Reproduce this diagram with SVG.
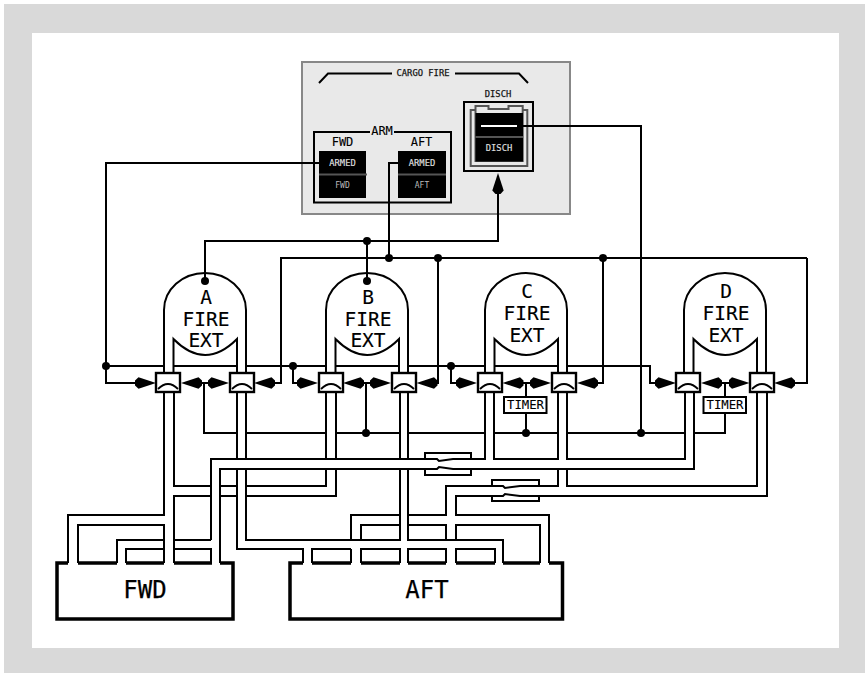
<svg xmlns="http://www.w3.org/2000/svg" width="865" height="673" viewBox="0 0 865 673">
<style>
.w{fill:none;stroke:#000;stroke-width:2}
.t{fill:none;stroke:#000;stroke-width:3.5}
.d{fill:#fff;stroke:#000;stroke-width:2}
.v{fill:#fff;stroke:#000;stroke-width:2.4}
.a{fill:none;stroke:#000;stroke-width:1.8}
.g{fill:none;stroke:#555;stroke-width:2}
text{font-family:"DejaVu Sans Mono","Liberation Mono",monospace;text-anchor:middle;fill:#000}
.x{font-size:19.5px;stroke:#000;stroke-width:.12}
.y{font-size:24px;stroke:#000;stroke-width:.25}
.z{font-size:12.3px;stroke:#000;stroke-width:.1}
.s{font-size:8.8px}
.n{stroke:#333;stroke-width:.25}
.m{font-size:12px;stroke:#000;stroke-width:.1}
.l{fill:#ddd;stroke:#ddd;stroke-width:.2}
.k{fill:#bbb;font-size:8px}
circle{fill:#000}
</style>
<defs>
<marker id="k" markerUnits="userSpaceOnUse" markerWidth="22" markerHeight="13" refX="13" refY="6.500" orient="auto"><path d="M0 4L3.500 .8L21 6.500L3.500 12.200L0 9Z" fill="#000"/></marker>
<g id="valve"><rect class="v" x="-12" y="-10" width="24" height="19"/><path class="a" d="M-10 6Q0 -4 10 6"/></g>
<path id="dome" class="w" d="M0 373V310A41 37 0 0 1 82 310V373M9.500 373V339Q41 371 73 339V373"/>
</defs>
<rect x="4" y="4" width="861" height="669" fill="#d9d9d9"/>
<rect x="32" y="33" width="807" height="615" fill="#fff"/>

<g id="panel">
<rect x="302" y="62" width="268" height="152" fill="#e9e9e9" stroke="#888" stroke-width="2"/>
<path class="w" d="M319 83L328 73.500H392M455 73.500H519L528 83"/>
<text class="s n" x="423" y="76">CARGO FIRE</text>
<text class="s n" x="498" y="97">DISCH</text>
</g>
<g id="arm">
<path class="w" d="M370 132H314V202.500H451V132H394"/>
<text class="m" x="382" y="135">ARM</text>
<text class="m" x="342.500" y="146">FWD</text>
<text class="m" x="421.500" y="146">AFT</text>
</g>
<g id="fwd-switch">
<rect x="319" y="151" width="47" height="47"/>
<path class="g" d="M319 174.500H367"/>
<text class="s l" x="342.500" y="166">ARMED</text>
<text class="s k" x="342.500" y="188">FWD</text>
</g>
<g id="aft-switch">
<rect x="398" y="151" width="48" height="47"/>
<path class="g" d="M398 174.500H446"/>
<text class="s l" x="422" y="166">ARMED</text>
<text class="s k" x="422" y="188">AFT</text>
</g>
<g id="disch-switch">
<rect x="464" y="102" width="69" height="69" fill="none" stroke="#000" stroke-width="2"/>
<path d="M475 110H470.700V166H527.300V110H522.700" fill="none" stroke="#555" stroke-width="2"/>
<path d="M475.500 161V106H488.500V109H508.500V106H522.700V161Z" fill="#e9e9e9" stroke="#555" stroke-width="2"/>
<rect x="475.500" y="113" width="47.500" height="48.500"/>
<path class="g" d="M475.500 137H523"/>
<path d="M481 126H517" stroke="#fff" stroke-width="2"/>
<text class="s l" x="499" y="151">DISCH</text>
</g>

<g id="connectors">
<path class="w" d="M319 163H106V383H148" marker-end="url(#k)"/>
<path class="w" d="M398 163H389V258"/>
<path class="w" d="M517 126H641V433"/>
<path class="w" d="M205 281V241H498V181" marker-end="url(#k)"/>
<path class="w" d="M367 241V281"/>
<path class="w" d="M807 258H281V383H262" marker-end="url(#k)"/>
<path class="w" d="M438 258V383H424.500" marker-end="url(#k)"/>
<path class="w" d="M603 258V383H585" marker-end="url(#k)"/>
<path class="w" d="M807 258V383H782" marker-end="url(#k)"/>
<path class="w" d="M106 366H164M174 366H237M246 366H325M335 366H399M408 366H485M494 366H558M567 366H650V383H668" marker-end="url(#k)"/>
<path class="w" d="M293 366V383H310" marker-end="url(#k)"/>
<path class="w" d="M451 366V383H469" marker-end="url(#k)"/>
<path class="w" d="M204 383H189" marker-end="url(#k)"/>
<path class="w" d="M204 383H221" marker-end="url(#k)"/>
<path class="w" d="M366 383H351" marker-end="url(#k)"/>
<path class="w" d="M366 383H383" marker-end="url(#k)"/>
<path class="w" d="M526 383H510.500" marker-end="url(#k)"/>
<path class="w" d="M526 383H543" marker-end="url(#k)"/>
<path class="w" d="M725 383H709" marker-end="url(#k)"/>
<path class="w" d="M725 383H741.500" marker-end="url(#k)"/>
<path class="w" d="M204 383V433H237M246 433H326M336 433H399M408 433H485M494 433H558M567 433H685M694 433H725V412M366 383V433M526 383V397M526 412V433M725 383V397"/>
<circle cx="106" cy="366" r="4"/><circle cx="293" cy="366" r="4"/><circle cx="451" cy="366" r="4"/>
<circle cx="205" cy="281" r="4"/><circle cx="367" cy="281" r="4"/><circle cx="367" cy="241" r="4"/>
<circle cx="389" cy="258" r="4"/><circle cx="438" cy="258" r="4"/><circle cx="603" cy="258" r="4"/>
<circle cx="366" cy="433" r="4"/><circle cx="526" cy="433" r="4"/><circle cx="641" cy="433" r="4"/>
<path class="w" d="M164 392V515H68V563M174 392V486H211M220 486H237M246 486H326V469M326 392V459M336 392V459M336 469V496H246M237 496H220M211 496H174V563"/>
<path class="w" d="M237 392V459M237 469V549H303V563M246 392V459M246 469V540H400V469M400 392V459M408 392V459M408 469V540H503V563"/>
<path class="w" d="M211 540V459H437L439 461L453 459H485V392M494 392V459H558V392M567 392V459H685V392"/>
<path class="w" d="M220 563V469H437L439 467L453 469H694V392"/>
<path class="w" d="M558 469V486H520L505 488L503 486H446V515H408M400 515H351V540M351 549V563M312 563V549H351"/>
<path class="w" d="M567 469V486H757V392M767 392V496H520L505 494L503 496H456V515H549V563"/>
<path class="w" d="M78 563V525H164V563M117 563V540H164M174 540H211M126 563V549H164M174 549H211V563"/>
<path class="w" d="M361 563V549H400V563M408 563V549H446V563M456 563V549H495V563M361 540V525H400M408 525H446V540M456 540V525H540V563"/>
</g>

<g id="crossover-1"><path class="w" d="M425 459V453H471V459M425 469V475H471V469"/></g>
<g id="crossover-2"><path class="w" d="M492 486V480H539V486M492 496V501H539V496"/></g>

<g id="ext-a"><use href="#dome" x="164"/><text class="x" x="206" y="304">A</text><text class="x" x="206" y="325.500">FIRE</text><text class="x" x="206" y="347">EXT</text><use href="#valve" x="168" y="383"/><use href="#valve" x="242" y="383"/></g>
<g id="ext-b"><use href="#dome" x="326"/><text class="x" x="368" y="304">B</text><text class="x" x="368" y="325.500">FIRE</text><text class="x" x="368" y="347">EXT</text><use href="#valve" x="331" y="383"/><use href="#valve" x="404" y="383"/></g>
<g id="ext-c"><use href="#dome" x="485"/><text class="x" x="527" y="298">C</text><text class="x" x="527" y="320">FIRE</text><text class="x" x="527" y="342">EXT</text><use href="#valve" x="490" y="383"/><use href="#valve" x="564" y="383"/></g>
<g id="ext-d"><use href="#dome" x="684"/><text class="x" x="726" y="298">D</text><text class="x" x="726" y="320">FIRE</text><text class="x" x="726" y="342">EXT</text><use href="#valve" x="688" y="383"/><use href="#valve" x="762" y="383"/></g>
<g id="timer-c"><rect class="d" x="504" y="397" width="42.500" height="16"/><text class="z" x="525.500" y="409">TIMER</text></g>
<g id="timer-d"><rect class="d" x="703.500" y="397" width="42.500" height="16"/><text class="z" x="725" y="409">TIMER</text></g>

<g id="tank-fwd">
<path class="t" d="M68 563H57V619H233V563H220M78 563H117M126 563H164M174 563H212"/>
<text class="y" x="145" y="598">FWD</text>
</g>
<g id="tank-aft">
<path class="t" d="M303 563H290V619H562.500V563H549M312 563H351M361 563H400M408 563H446M456 563H495M503 563H540"/>
<text class="y" x="427" y="598">AFT</text>
</g>
</svg>
